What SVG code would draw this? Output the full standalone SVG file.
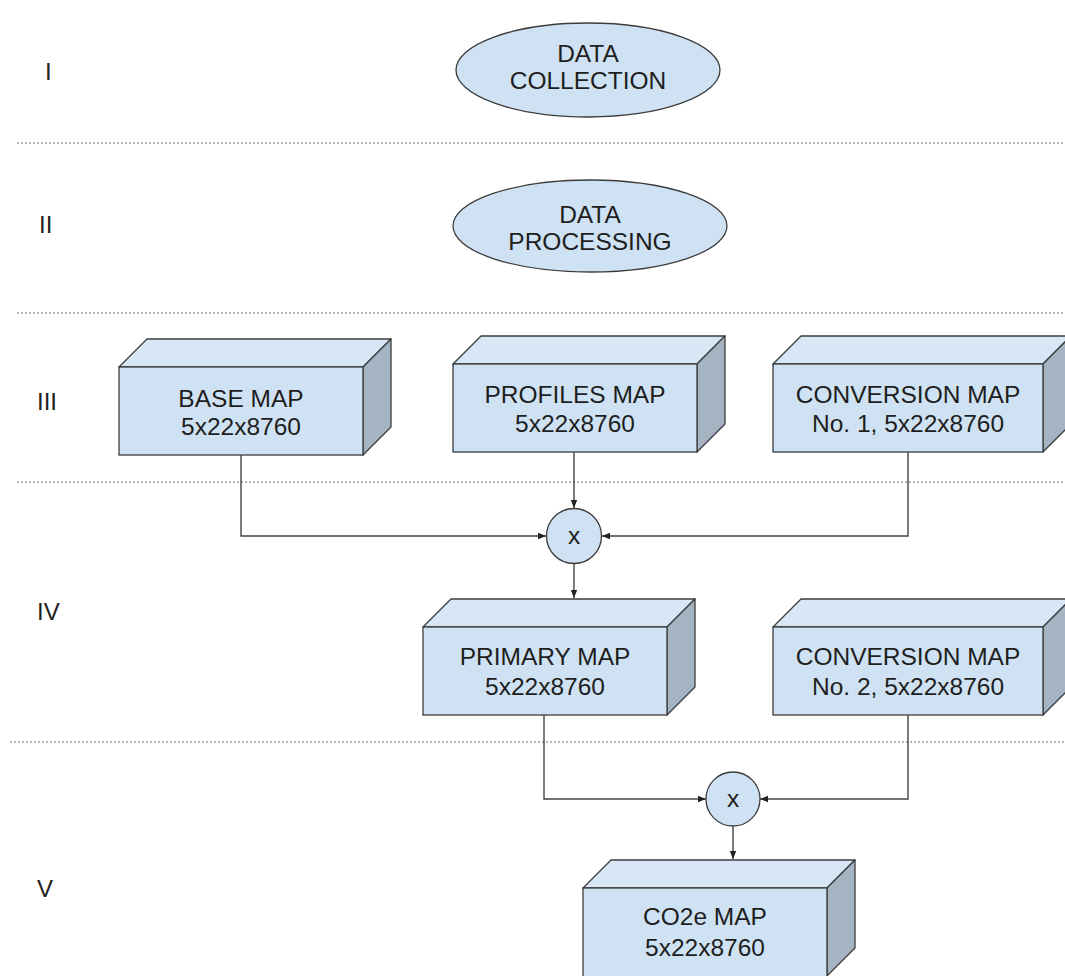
<svg xmlns="http://www.w3.org/2000/svg" width="1065" height="976" viewBox="0 0 1065 976">
<defs>
<style>
.t{font-family:"Liberation Sans",Arial,sans-serif;font-size:24.5px;fill:#1e1e1e;text-anchor:middle}
.lbl{font-family:"Liberation Sans",Arial,sans-serif;font-size:24px;fill:#222}
.front{fill:#cfe2f3;stroke:#3c3c3c;stroke-width:1.3}
.top{fill:#d8e7f5;stroke:#3c3c3c;stroke-width:1.3;stroke-linejoin:round}
.side{fill:#a4b4c2;stroke:#3c3c3c;stroke-width:1.3;stroke-linejoin:round}
.ell{fill:#cfe2f3;stroke:#3c3c3c;stroke-width:1.3}
.sep{stroke:#9a9a9a;stroke-width:1.3;stroke-dasharray:2,2;fill:none}
.con{stroke:#444;stroke-width:1.4;fill:none}
</style>
<marker id="ah" viewBox="0 0 10 10" refX="10" refY="5" markerWidth="8" markerHeight="8" markerUnits="userSpaceOnUse" orient="auto">
<path d="M0,1 L10,5 L0,9 z" fill="#222"/>
</marker>
</defs>
<rect width="1065" height="976" fill="#fff"/>
<g id="separators">
<line class="sep" x1="17" y1="143" x2="1065" y2="143"/>
<line class="sep" x1="17" y1="313" x2="1065" y2="313"/>
<line class="sep" x1="17" y1="482" x2="1065" y2="482"/>
<line class="sep" x1="10" y1="742" x2="1065" y2="742"/>
</g>
<g id="stage-labels">
<text class="lbl" x="45" y="80">I</text>
<text class="lbl" x="39" y="233">II</text>
<text class="lbl" x="37" y="410">III</text>
<text class="lbl" x="37" y="620">IV</text>
<text class="lbl" x="37" y="897">V</text>
</g>
<g id="data-collection">
<ellipse class="ell" cx="588" cy="70" rx="132" ry="47"/>
<text class="t" x="588" y="62">DATA</text>
<text class="t" x="588" y="89">COLLECTION</text>
</g>
<g id="data-processing">
<ellipse class="ell" cx="590" cy="226" rx="137" ry="46"/>
<text class="t" x="590" y="223">DATA</text>
<text class="t" x="590" y="250">PROCESSING</text>
</g>
<g id="base-map">
<polygon class="top" points="119,367 147,339 391,339 363,367"/>
<polygon class="side" points="363,367 391,339 391,427 363,455"/>
<rect class="front" x="119" y="367" width="244" height="88"/>
<text class="t" x="241" y="407">BASE MAP</text>
<text class="t" x="241" y="435">5x22x8760</text>
</g>
<g id="profiles-map">
<polygon class="top" points="453,364 481,336 725,336 697,364"/>
<polygon class="side" points="697,364 725,336 725,424 697,452"/>
<rect class="front" x="453" y="364" width="244" height="88"/>
<text class="t" x="575" y="403">PROFILES MAP</text>
<text class="t" x="575" y="432">5x22x8760</text>
</g>
<g id="conversion-map-1">
<polygon class="top" points="773,364 801,336 1071,336 1043,364"/>
<polygon class="side" points="1043,364 1071,336 1071,424 1043,452"/>
<rect class="front" x="773" y="364" width="270" height="88"/>
<text class="t" x="908" y="403">CONVERSION MAP</text>
<text class="t" x="908" y="432">No. 1, 5x22x8760</text>
</g>
<g id="multiply-1">
<circle class="ell" cx="574" cy="536" r="27.5"/>
<text class="t" x="574" y="544">x</text>
</g>
<g id="primary-map">
<polygon class="top" points="423,627 451,599 695,599 667,627"/>
<polygon class="side" points="667,627 695,599 695,687 667,715"/>
<rect class="front" x="423" y="627" width="244" height="88"/>
<text class="t" x="545" y="665">PRIMARY MAP</text>
<text class="t" x="545" y="695">5x22x8760</text>
</g>
<g id="conversion-map-2">
<polygon class="top" points="773,627 801,599 1071,599 1043,627"/>
<polygon class="side" points="1043,627 1071,599 1071,687 1043,715"/>
<rect class="front" x="773" y="627" width="270" height="88"/>
<text class="t" x="908" y="665">CONVERSION MAP</text>
<text class="t" x="908" y="695">No. 2, 5x22x8760</text>
</g>
<g id="multiply-2">
<circle class="ell" cx="733" cy="799" r="27"/>
<text class="t" x="733" y="807">x</text>
</g>
<g id="co2e-map">
<polygon class="top" points="583,888 611,860 855,860 827,888"/>
<polygon class="side" points="827,888 855,860 855,948 827,976"/>
<rect class="front" x="583" y="888" width="244" height="100"/>
<text class="t" x="705" y="925">CO2e MAP</text>
<text class="t" x="705" y="956">5x22x8760</text>
</g>
<g id="connectors">
<polyline class="con" points="241,455 241,536 546,536" marker-end="url(#ah)"/>
<polyline class="con" points="574,452 574,508" marker-end="url(#ah)"/>
<polyline class="con" points="908,452 908,536 602,536" marker-end="url(#ah)"/>
<polyline class="con" points="574,564 574,598" marker-end="url(#ah)"/>
<polyline class="con" points="544,715 544,799 706,799" marker-end="url(#ah)"/>
<polyline class="con" points="908,715 908,799 760,799" marker-end="url(#ah)"/>
<polyline class="con" points="733,826 733,859" marker-end="url(#ah)"/>
</g>
</svg>
